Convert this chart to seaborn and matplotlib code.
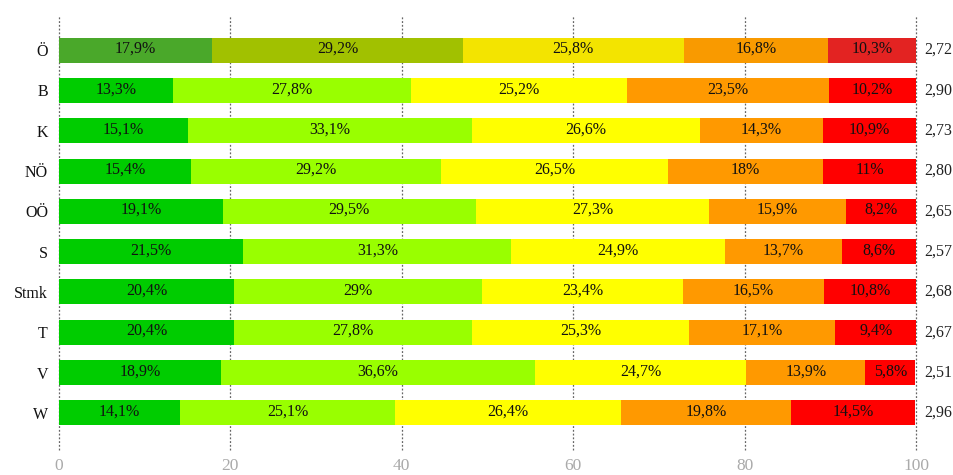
import numpy as np
import pandas as pd
import seaborn as sns
import matplotlib.pyplot as plt

regions = ['Ö', 'B', 'K', 'NÖ', 'OÖ', 'S', 'Stmk', 'T', 'V', 'W']
grade1 = [17.9, 13.3, 15.1, 15.4, 19.1, 21.5, 20.4, 20.4, 18.9, 14.1]
grade2 = [29.2, 27.8, 33.1, 29.2, 29.5, 31.3, 29.0, 27.8, 36.6, 25.1]
grade3 = [25.8, 25.2, 26.6, 26.5, 27.3, 24.9, 23.4, 25.3, 24.7, 26.4]
grade4 = [16.8, 23.5, 14.3, 18.0, 15.9, 13.7, 16.5, 17.1, 13.9, 19.8]
grade5 = [10.3, 10.2, 10.9, 11.0, 8.2, 8.6, 10.8, 9.4, 5.8, 14.5]
averages = ['2,72', '2,90', '2,73', '2,80', '2,65', '2,57', '2,68', '2,67', '2,51', '2,96']

colors_total = ['#4aa82a', '#a1c100', '#f3e400', '#f99a00', '#e32322']
colors_region = ['#00cc00', '#99ff00', '#ffff00', '#ff9900', '#ff0000']

sns.set_style("white")
plt.rcParams['font.family'] = ['Liberation Serif', 'DejaVu Serif']

grades = [grade1, grade2, grade3, grade4, grade5]
df = pd.DataFrame({'region': regions})
for i, g in enumerate(grades):
    df['g%d' % (i + 1)] = g
cum = np.cumsum(np.array(grades), axis=0)

fig = plt.figure(figsize=(9.54, 4.75), dpi=100)
ax = fig.add_axes([59 / 954, 25 / 475, 857 / 954, 435 / 475])

# draw cumulative layers, widest first so narrower ones sit on top
for k in range(4, -1, -1):
    df['cum'] = cum[k]
    pal = {r: (colors_total[k] if r == 'Ö' else colors_region[k]) for r in regions}
    sns.barplot(data=df, x='cum', y='region', hue='region', palette=pal,
                order=regions, width=0.62, legend=False, ax=ax,
                linewidth=0, saturation=1)

# segment labels
for j, r in enumerate(regions):
    left = 0
    for k in range(5):
        v = grades[k][j]
        txt = ('%g' % v).replace('.', ',') + '%'
        ax.text(left + v / 2, j - 0.03, txt, ha='center', va='center',
                fontsize=11.5, color='#111111')
        left += v
    ax.text(101, j, averages[j], ha='left', va='center', fontsize=11.5,
            color='#222222', clip_on=False)

ax.set_xlim(0, 100)
ax.set_ylim(9.92, -0.87)
ax.set_xticks([0, 20, 40, 60, 80, 100])
ax.xaxis.grid(True, linestyle=(0, (1.5, 1.5)), color='#666666', linewidth=0.9)
for gl in ax.get_xgridlines():
    gl.set_clip_on(False)
ax.set_axisbelow(True)
sns.despine(ax=ax, left=True, bottom=True)
ax.set_xlabel('')
ax.set_ylabel('')
ax.tick_params(axis='x', colors='#aaaaaa', labelsize=12.5, length=0, pad=6)
ax.tick_params(axis='y', labelsize=11.5, length=0, pad=8)
for lab in ax.get_yticklabels():
    lab.set_color('#111111')

fig.savefig('out.png', dpi=100)
